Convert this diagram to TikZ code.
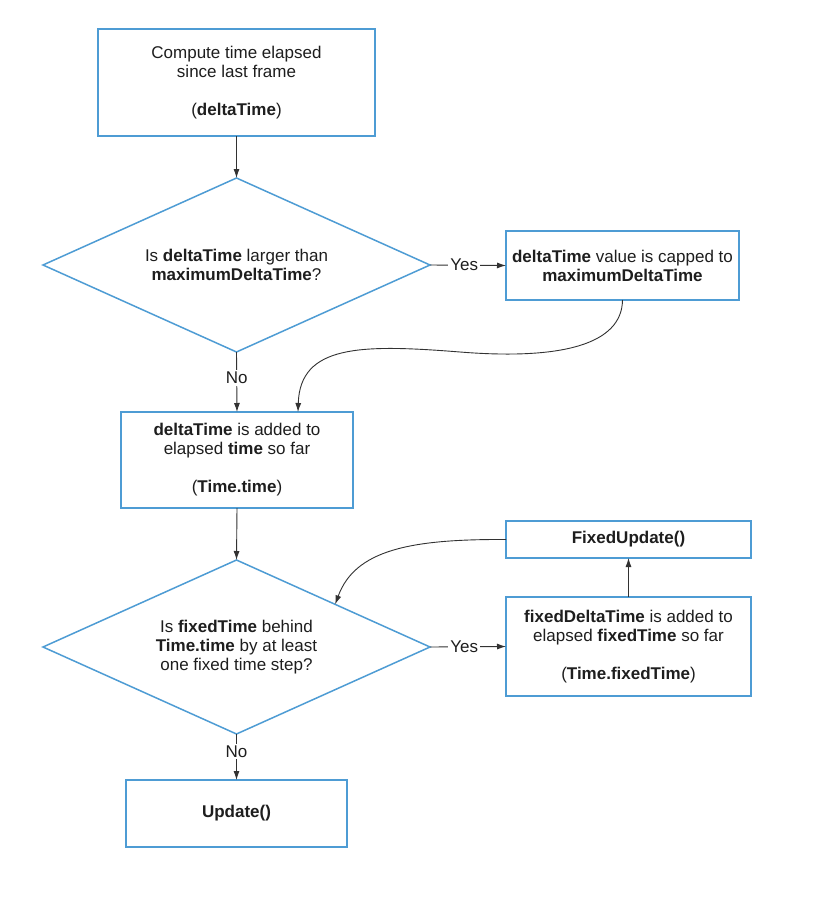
\documentclass[tikz,border=0pt]{standalone}
\usepackage{fontspec}
\setmainfont{Liberation Sans}
\usetikzlibrary{shapes.geometric,arrows.meta,calc}
\definecolor{boxblue}{RGB}{78,156,212}
\definecolor{txt}{RGB}{30,30,30}
\definecolor{conn}{RGB}{50,50,50}
\tikzset{
  every node/.style={font=\fontsize{17}{19}\selectfont, text=txt},
  procbox/.style={draw=boxblue, line width=1.5pt, rectangle, inner sep=0pt, outer sep=0pt, align=center},
  decbox/.style={draw=boxblue, line width=1.5pt, diamond, aspect=2.22, inner sep=0pt, outer sep=0pt, align=center, minimum width=387pt, minimum height=174pt},
  conline/.style={draw=conn, line width=0.9pt, -{Latex[length=9pt,width=6pt]}},
  lbl/.style={fill=white, inner sep=2pt}
}
\begin{document}
\begin{tikzpicture}[x=1pt,y=-1pt]
\useasboundingbox[fill=white] (0,0) rectangle (828,900);

\node[procbox, minimum width=277pt, minimum height=107pt] (b1) at (236.5,82.5)
  {Compute time elapsed\\since last frame\\[19pt](\textbf{deltaTime})};
\node[decbox] (d1) at (236.5,265)
  {Is \textbf{deltaTime} larger than\\\textbf{maximumDeltaTime}?};
\node[procbox, minimum width=233pt, minimum height=69pt] (b2) at (622.5,265.5)
  {\textbf{deltaTime} value is capped to\\\textbf{maximumDeltaTime}};
\node[procbox, minimum width=232pt, minimum height=96pt] (b3) at (237,460)
  {\textbf{deltaTime} is added to\\elapsed \textbf{time} so far\\[19pt](\textbf{Time.time})};
\node[decbox] (d2) at (236.5,647)
  {Is \textbf{fixedTime} behind\\\textbf{Time.time} by at least\\one fixed time step?};
\node[procbox, minimum width=245pt, minimum height=99pt] (b4) at (628.5,646.5)
  {\textbf{fixedDeltaTime} is added to\\elapsed \textbf{fixedTime} so far\\[19pt](\textbf{Time.fixedTime})};
\node[procbox, minimum width=245pt, minimum height=37pt] (b5) at (628.5,539.5)
  {\textbf{FixedUpdate()}};
\node[procbox, minimum width=221pt, minimum height=67pt] (b6) at (236.5,813.5)
  {\textbf{Update()}};

\coordinate (c1) at ([xshift=61pt]b3.north);
\coordinate (c2) at ($(d2.north)!0.51!(d2.east)$);

\draw[conline] (b1.south) -- (d1.north);
\draw[conline] (d1.east) -- node[lbl, pos=0.45]{Yes} (b2.west);
\draw[conline] (d1.south) -- node[lbl, pos=0.43]{No} (b3.north);
\draw[conline] (b2.south) .. controls (622,345) and (560,360) .. (460,352)
  .. controls (360,344) and (300,345) .. (c1);
\draw[conline] (b3.south) -- (d2.north);
\draw[conline] (d2.east) -- node[lbl, pos=0.45]{Yes} (b4.west);
\draw[conline] (b4.north) -- (b5.south);
\draw[conline] (b5.west) .. controls (410,539) and (355,550) .. (c2);
\draw[conline] (d2.south) -- node[lbl, pos=0.38]{No} (b6.north);
\end{tikzpicture}
\end{document}
